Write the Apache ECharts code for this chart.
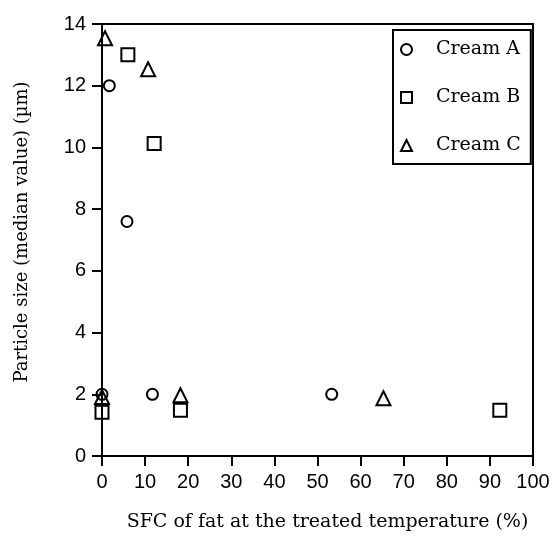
<!DOCTYPE html>
<html>
<head>
<meta charset="utf-8">
<script src="https://cdn.jsdelivr.net/npm/echarts@6/dist/echarts.min.js"></script>
<style>
html,body{margin:0;padding:0;background:#fff;}
#chart{width:552px;height:540px;}
</style>
</head>
<body>
<div id="chart"></div>
<script>
const seriesNames = ['Cream A', 'Cream B', 'Cream C'];
const creamA = [[0, 2.0], [1.7, 12.0], [5.8, 7.6], [11.7, 2.0], [53.3, 2.0]];
const creamB = [[0, 1.42], [6.0, 13.0], [12.1, 10.13], [18.2, 1.48], [92.3, 1.48]];
const creamC = [[0.7, 13.54], [10.7, 12.53], [0, 1.91], [18.2, 1.97], [65.3, 1.87]];
const xTicks = [0, 10, 20, 30, 40, 50, 60, 70, 80, 90, 100];
const yTicks = [0, 2, 4, 6, 8, 10, 12, 14];
const xTitle = 'SFC of fat at the treated temperature (%)';
const yTitle = 'Particle size (median value) (\u00b5m)';

const chart = echarts.init(document.getElementById('chart'), null, {renderer: 'canvas'});
const markerStyle = {color: 'rgba(255,255,255,0)', borderColor: '#000', borderWidth: 2, opacity: 1};
const serif = 'DejaVu Serif';
const sans = 'Liberation Sans';

chart.setOption({
  animation: false,
  backgroundColor: '#fff',
  grid: {left: 102, right: 19, top: 24, bottom: 84, show: true, borderColor: '#000', borderWidth: 2, containLabel: false, outerBoundsMode: 'none'},
  legend: {
    orient: 'vertical', left: 393, top: 30,
    padding: [10, 10, 9, 7],
    itemWidth: 11, itemHeight: 11, itemGap: 29,
    borderColor: '#000', borderWidth: 2,
    itemStyle: {borderColor: '#000', borderWidth: 2},
    textStyle: {fontFamily: serif, fontSize: 19, color: '#000', padding: [0, 0, 0, 19]},
    data: seriesNames
  },
  xAxis: {
    type: 'value', min: xTicks[0], max: xTicks[xTicks.length - 1], interval: 10,
    name: xTitle, nameLocation: 'middle', nameGap: 57,
    nameTextStyle: {fontFamily: serif, fontSize: 19, color: '#000', padding: [0, 0, 0, 20]},
    axisLine: {lineStyle: {color: '#000', width: 2}},
    axisTick: {show: true, inside: false, length: 10, lineStyle: {color: '#000', width: 2}},
    axisLabel: {fontFamily: sans, fontSize: 20, color: '#000', margin: 16},
    splitLine: {show: false}
  },
  yAxis: {
    type: 'value', min: yTicks[0], max: yTicks[yTicks.length - 1], interval: 2,
    name: yTitle, nameLocation: 'middle', nameGap: 71, nameRotate: 90,
    nameTextStyle: {fontFamily: serif, fontSize: 18, color: '#000', padding: [0, 0, 0, 16]},
    axisLine: {lineStyle: {color: '#000', width: 2}},
    axisTick: {show: true, inside: false, length: 10, lineStyle: {color: '#000', width: 2}},
    axisLabel: {fontFamily: sans, fontSize: 20, color: '#000', margin: 16},
    splitLine: {show: false}
  },
  series: [
    {name: seriesNames[0], type: 'scatter', symbol: 'circle', symbolSize: 11, data: creamA, itemStyle: markerStyle},
    {name: seriesNames[1], type: 'scatter', symbol: 'rect', symbolSize: 13, data: creamB, itemStyle: markerStyle},
    {name: seriesNames[2], type: 'scatter', symbol: 'triangle', symbolSize: 14, data: creamC, itemStyle: markerStyle}
  ]
});
</script>
</body>
</html>
